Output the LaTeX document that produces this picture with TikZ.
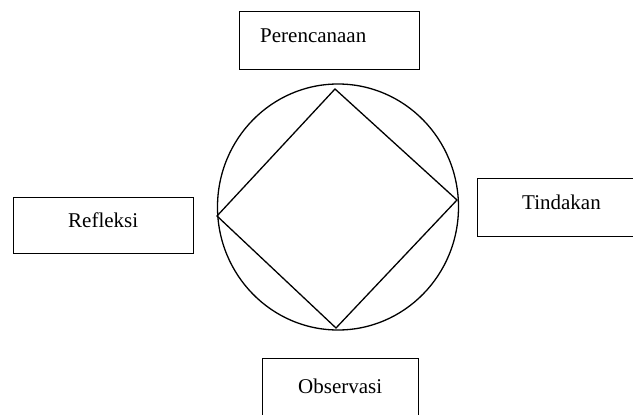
\documentclass[tikz,border=0pt]{standalone}
\usepackage{fontspec}
\usetikzlibrary{shapes.geometric}
\setmainfont{Liberation Serif}
\begin{document}
\begin{tikzpicture}[x=1pt,y=-1pt,
  boxnode/.style={draw, line width=1.4pt, inner sep=0pt, anchor=north west},
  lbl/.style={anchor=base west, inner sep=0pt, font=\fontsize{21}{25}\selectfont},
  shapeline/.style={line width=1.3pt}]
\useasboundingbox (0,0) rectangle (633,415);
\clip (0,0) rectangle (633,415);
% boxes
\node[boxnode, minimum width=180pt, minimum height=58pt] (bp) at (239,11) {};
\node[boxnode, minimum width=180pt, minimum height=58pt] (bt) at (477,178) {};
\node[boxnode, minimum width=180pt, minimum height=56pt] (br) at (13,197) {};
\node[boxnode, minimum width=156pt, minimum height=70pt] (bo) at (262,358) {};
% labels
\node[lbl] (tp) at (260,42) {Perencanaan};
\node[lbl] (tt) at (522,209) {Tindakan};
\node[lbl] (tr) at (68,227) {Refleksi};
\node[lbl] (to) at (298,393) {Observasi};
% circle
\node[draw, ellipse, shapeline, minimum width=241pt, minimum height=246pt, inner sep=0pt] (c) at (338,207) {};
% diamond
\coordinate (dt) at (335,89);
\coordinate (dr) at (457,200);
\coordinate (db) at (336,328);
\coordinate (dl) at (217,216);
\draw[shapeline, line join=miter] (dt) -- (dr) -- (db) -- (dl) -- cycle;
\end{tikzpicture}
\end{document}
